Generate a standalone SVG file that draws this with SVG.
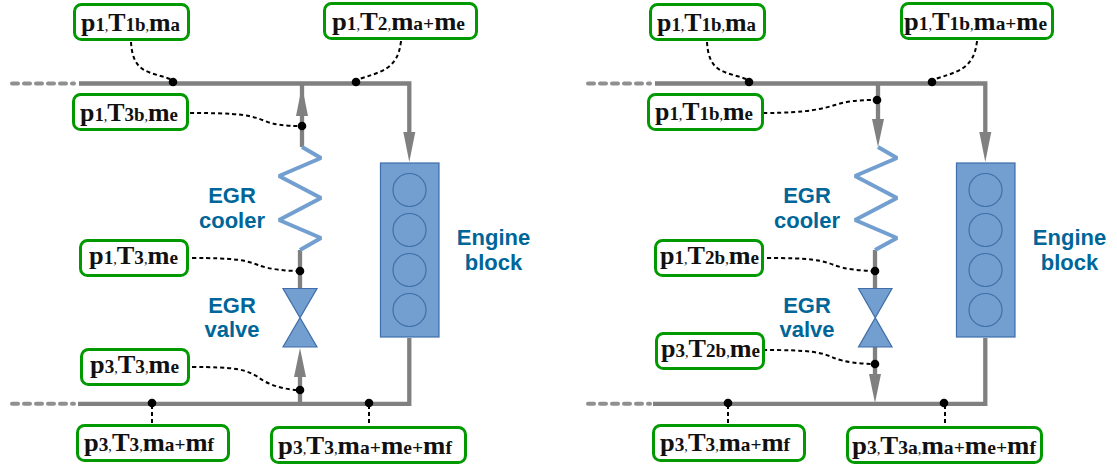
<svg xmlns="http://www.w3.org/2000/svg" width="1117" height="468" viewBox="0 0 1117 468">
<style>
.box{fill:#fff;stroke:#009a00;stroke-width:3}
.t{font-family:"Liberation Serif",serif;font-weight:bold;font-size:26px;fill:#111}
.s{font-size:19px}
.c{font-size:14px;font-weight:normal}
.pipe{fill:none;stroke:#808080;stroke-width:4.300}
.dot{fill:none;stroke:#909090;stroke-width:4;stroke-dasharray:6 6;stroke-linecap:round}
.lead{fill:none;stroke:#000;stroke-width:2;stroke-dasharray:4 3}
.pt{fill:#000}
.head{fill:#808080}
.coil{fill:none;stroke:#729fcf;stroke-width:4;stroke-linejoin:bevel}
.blk{fill:#729fcf;stroke:#3f6eaa;stroke-width:1.200}
.lab{font-family:"Liberation Sans",sans-serif;font-weight:bold;font-size:22px;fill:#006699;text-anchor:middle}
</style>
<g id="connectors">
<path class="pipe" d="M79 83.500H409.300V132M302 83.500V147M300 250V288M78 403.800H409.300V338M300 403.800V377"/>
<path class="dot" d="M12 83.500H74M12 403.800H74"/>
<path class="head" d="M302 86L308 116H296ZM409.300 162L403.300 132H415.300ZM300 348L306 377H294Z"/>
<path class="lead" d="M131 42C133 75 150 71 173 80M401 41C398 70 380 72 356 80M190 113C240 113 250 115 265 121C275 125 285 126 302 126M192 258C235 258 245 260 258 265C268 269 285 271 300 271M192 367C235 367 245 369 258 377C268 385 285 390 300 390M152 405V424M369 405V426"/>
<circle class="pt" cx="173" cy="82" r="4.300"/><circle class="pt" cx="356" cy="82" r="4.300"/><circle class="pt" cx="302" cy="126" r="4.300"/><circle class="pt" cx="300" cy="271" r="4.300"/><circle class="pt" cx="300" cy="390" r="4.300"/><circle class="pt" cx="152" cy="403" r="4.300"/><circle class="pt" cx="369" cy="403" r="4.300"/>
<path class="pipe" d="M655 83.500H985.300V132M878 83.500V120M875 250V288M653 403.800H985.300V338M875 347V375"/>
<path class="dot" d="M588 83.500H650M588 403.800H650"/>
<path class="head" d="M878 147L872 119H884ZM985.300 162L979.300 132H991.300ZM875 403L869 374H881Z"/>
<path class="lead" d="M707 42C709 75 726 71 749 80M977 41C974 70 956 72 932 80M763 113C810 113 825 108 835 105C850 100 865 100 877 100M767 258C811 258 821 260 834 265C844 269 861 271 875 271M763 350C811 350 821 352 834 358C844 362 861 364 875 364M728 405V424M945 405V426"/>
<circle class="pt" cx="749" cy="82" r="4.300"/><circle class="pt" cx="932" cy="82" r="4.300"/><circle class="pt" cx="877" cy="100" r="4.300"/><circle class="pt" cx="875" cy="271" r="4.300"/><circle class="pt" cx="875" cy="364" r="4.300"/><circle class="pt" cx="728" cy="403" r="4.300"/><circle class="pt" cx="944" cy="403" r="4.300"/>
</g>
<g id="cooler-l"><path class="coil" d="M302 147L321 158L279 176L321 198L279 220L321 238L300 250"/><text class="lab" x="232" y="203">EGR</text><text class="lab" x="232" y="228">cooler</text></g>
<g id="valve-l"><path class="blk" d="M283 288.500H317L283 347H317Z"/><text class="lab" x="232" y="313">EGR</text><text class="lab" x="232" y="337">valve</text></g>
<g id="engine-l"><rect class="blk" x="380.500" y="163" width="58.500" height="174"/><circle class="blk" cx="409.500" cy="190" r="16.500"/><circle class="blk" cx="409.500" cy="230" r="16.500"/><circle class="blk" cx="409.500" cy="270" r="16.500"/><circle class="blk" cx="409.500" cy="310" r="16.500"/><text class="lab" x="493.500" y="245">Engine</text><text class="lab" x="493.500" y="270">block</text></g>
<g id="cooler-r"><path class="coil" d="M878 147L897 158L855 176L897 198L855 220L897 238L875 250"/><text class="lab" x="807" y="203">EGR</text><text class="lab" x="807" y="228">cooler</text></g>
<g id="valve-r"><path class="blk" d="M858.500 288.500H892L858.500 347H892Z"/><text class="lab" x="807" y="313">EGR</text><text class="lab" x="807" y="337">valve</text></g>
<g id="engine-r"><rect class="blk" x="956.500" y="163" width="58.500" height="174"/><circle class="blk" cx="985.500" cy="190" r="16.500"/><circle class="blk" cx="985.500" cy="230" r="16.500"/><circle class="blk" cx="985.500" cy="270" r="16.500"/><circle class="blk" cx="985.500" cy="310" r="16.500"/><text class="lab" x="1069.500" y="245">Engine</text><text class="lab" x="1069.500" y="270">block</text></g>
<g id="n1"><rect class="box" x="74.500" y="4.500" width="114" height="35" rx="7"/><text class="t" x="81" y="31" textLength="99" lengthAdjust="spacingAndGlyphs">p<tspan class="s">1</tspan><tspan class="c">,</tspan>T<tspan class="s">1b</tspan><tspan class="c">,</tspan>m<tspan class="s">a</tspan></text></g>
<g id="n2"><rect class="box" x="324.500" y="3.500" width="152" height="35" rx="7"/><text class="t" x="332" y="30" textLength="133" lengthAdjust="spacingAndGlyphs">p<tspan class="s">1</tspan><tspan class="c">,</tspan>T<tspan class="s">2</tspan><tspan class="c">,</tspan>m<tspan class="s">a+</tspan>m<tspan class="s">e</tspan></text></g>
<g id="n3"><rect class="box" x="73.500" y="94.500" width="114" height="35" rx="7"/><text class="t" x="80" y="121" textLength="98" lengthAdjust="spacingAndGlyphs">p<tspan class="s">1</tspan><tspan class="c">,</tspan>T<tspan class="s">3b</tspan><tspan class="c">,</tspan>m<tspan class="s">e</tspan></text></g>
<g id="n4"><rect class="box" x="80.500" y="240.500" width="107" height="35" rx="7"/><text class="t" x="89" y="264" textLength="89" lengthAdjust="spacingAndGlyphs">p<tspan class="s">1</tspan><tspan class="c">,</tspan>T<tspan class="s">3</tspan><tspan class="c">,</tspan>m<tspan class="s">e</tspan></text></g>
<g id="n5"><rect class="box" x="81.500" y="349.500" width="107" height="35" rx="7"/><text class="t" x="90" y="373" textLength="89" lengthAdjust="spacingAndGlyphs">p<tspan class="s">3</tspan><tspan class="c">,</tspan>T<tspan class="s">3</tspan><tspan class="c">,</tspan>m<tspan class="s">e</tspan></text></g>
<g id="n6"><rect class="box" x="77.500" y="425.500" width="151" height="35" rx="7"/><text class="t" x="84" y="451" textLength="130" lengthAdjust="spacingAndGlyphs">p<tspan class="s">3</tspan><tspan class="c">,</tspan>T<tspan class="s">3</tspan><tspan class="c">,</tspan>m<tspan class="s">a+</tspan>m<tspan class="s">f</tspan></text></g>
<g id="n7"><rect class="box" x="271.500" y="427.500" width="194" height="35" rx="7"/><text class="t" x="278" y="454" textLength="174" lengthAdjust="spacingAndGlyphs">p<tspan class="s">3</tspan><tspan class="c">,</tspan>T<tspan class="s">3</tspan><tspan class="c">,</tspan>m<tspan class="s">a+</tspan>m<tspan class="s">e+</tspan>m<tspan class="s">f</tspan></text></g>
<g id="n8"><rect class="box" x="650.500" y="4.500" width="114" height="35" rx="7"/><text class="t" x="657" y="31" textLength="99" lengthAdjust="spacingAndGlyphs">p<tspan class="s">1</tspan><tspan class="c">,</tspan>T<tspan class="s">1b</tspan><tspan class="c">,</tspan>m<tspan class="s">a</tspan></text></g>
<g id="n9"><rect class="box" x="901.500" y="3.500" width="151" height="35" rx="7"/><text class="t" x="904" y="30" textLength="143" lengthAdjust="spacingAndGlyphs">p<tspan class="s">1</tspan><tspan class="c">,</tspan>T<tspan class="s">1b</tspan><tspan class="c">,</tspan>m<tspan class="s">a+</tspan>m<tspan class="s">e</tspan></text></g>
<g id="n10"><rect class="box" x="648.500" y="94.500" width="114" height="35" rx="7"/><text class="t" x="655" y="120" textLength="98" lengthAdjust="spacingAndGlyphs">p<tspan class="s">1</tspan><tspan class="c">,</tspan>T<tspan class="s">1b</tspan><tspan class="c">,</tspan>m<tspan class="s">e</tspan></text></g>
<g id="n11"><rect class="box" x="655.500" y="240.500" width="107" height="35" rx="7"/><text class="t" x="660" y="264" textLength="99" lengthAdjust="spacingAndGlyphs">p<tspan class="s">1</tspan><tspan class="c">,</tspan>T<tspan class="s">2b</tspan><tspan class="c">,</tspan>m<tspan class="s">e</tspan></text></g>
<g id="n12"><rect class="box" x="656.500" y="333.500" width="107" height="35" rx="7"/><text class="t" x="661" y="357" textLength="99" lengthAdjust="spacingAndGlyphs">p<tspan class="s">3</tspan><tspan class="c">,</tspan>T<tspan class="s">2b</tspan><tspan class="c">,</tspan>m<tspan class="s">e</tspan></text></g>
<g id="n13"><rect class="box" x="653.500" y="425.500" width="151" height="35" rx="7"/><text class="t" x="660" y="451" textLength="130" lengthAdjust="spacingAndGlyphs">p<tspan class="s">3</tspan><tspan class="c">,</tspan>T<tspan class="s">3</tspan><tspan class="c">,</tspan>m<tspan class="s">a+</tspan>m<tspan class="s">f</tspan></text></g>
<g id="n14"><rect class="box" x="847.500" y="427.500" width="194" height="35" rx="7"/><text class="t" x="852" y="454" textLength="184" lengthAdjust="spacingAndGlyphs">p<tspan class="s">3</tspan><tspan class="c">,</tspan>T<tspan class="s">3a</tspan><tspan class="c">,</tspan>m<tspan class="s">a+</tspan>m<tspan class="s">e+</tspan>m<tspan class="s">f</tspan></text></g>
</svg>
